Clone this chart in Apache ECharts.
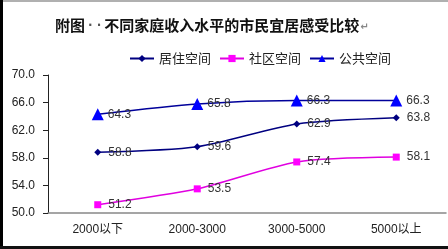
<!DOCTYPE html>
<html><head><meta charset="utf-8">
<script src="https://cdn.jsdelivr.net/npm/echarts@6/dist/echarts.min.js"></script>
<style>html,body{margin:0;padding:0;background:#fff}#c{width:448px;height:249px}</style>
</head><body><div id="c"></div>
<script>
const categories = ['2000以下', '2000-3000', '3000-5000', '5000以上'];
const seriesNames = ['居住空间', '社区空间', '公共空间'];
const residential = [58.8, 59.6, 62.9, 63.8];
const community = [51.2, 53.5, 57.4, 58.1];
const publicSpace = [64.3, 65.8, 66.3, 66.3];
const yTicks = [50, 54, 58, 62, 66, 70];

const chart = echarts.init(document.getElementById('c'), null, {renderer: 'canvas'});
const labelStyle = (dist) => ({
  show: true, position: 'right', distance: dist,
  color: '#333', fontSize: 12, fontFamily: 'Liberation Sans, Arial, sans-serif',
  formatter: p => p.value.toFixed(1)
});
chart.setOption({
  animation: false,
  backgroundColor: '#fff',
  title: {
    text: '{a|附图}{d|· ·}{a|不同家庭收入水平的市民宜居感受比较}{p|↵}',
    left: 50, top: 13,
    textStyle: {
      rich: {
        a: {fontSize: 15, fontWeight: 'bold', color: '#111', fontFamily: '"Noto Sans CJK SC", sans-serif'},
        d: {fontSize: 12, color: '#555', fontFamily: 'DejaVu Sans, sans-serif', padding: [0, 3, 0, 3]},
        p: {fontSize: 10, color: '#888', fontFamily: 'DejaVu Sans, sans-serif', padding: [4, 0, 0, 1]}
      }
    }
  },
  legend: {
    top: 47, left: 124, itemWidth: 24, itemHeight: 9, itemGap: 8,
    textStyle: {fontSize: 13, color: '#222', fontFamily: '"Noto Sans CJK SC", sans-serif'},
    data: seriesNames
  },
  grid: {left: 48, right: 2, top: 75, bottom: 36, containLabel: false},
  xAxis: {
    type: 'category', data: categories, boundaryGap: true,
    axisLine: {lineStyle: {color: '#888', width: 1.5}},
    axisTick: {show: false},
    axisLabel: {color: '#222', fontSize: 12, margin: 11,
      fontFamily: 'Liberation Sans, "Noto Sans CJK SC", sans-serif'}
  },
  yAxis: {
    type: 'value', min: 50, max: 70, interval: 4,
    axisLine: {show: true, lineStyle: {color: '#222', width: 1}},
    axisTick: {show: true, length: 5, lineStyle: {color: '#222'}},
    splitLine: {show: false},
    axisLabel: {color: '#222', fontSize: 12, margin: 13,
      fontFamily: 'Liberation Sans, Arial, sans-serif',
      formatter: v => yTicks.includes(v) ? v.toFixed(1) : ''}
  },
  series: [
    {name: seriesNames[0], type: 'line', data: residential, smooth: 0.25,
     symbol: 'diamond', symbolSize: 7,
     itemStyle: {color: '#000080'}, lineStyle: {color: '#000080', width: 1.5},
     label: labelStyle(7)},
    {name: seriesNames[1], type: 'line', data: community, smooth: 0.25,
     symbol: 'rect', symbolSize: 7,
     itemStyle: {color: '#ff00ff'}, lineStyle: {color: '#e000e0', width: 1.5},
     label: labelStyle(7)},
    {name: seriesNames[2], type: 'line', data: publicSpace, smooth: 0.25,
     symbol: 'triangle', symbolSize: 12,
     itemStyle: {color: '#0000ff'}, lineStyle: {color: '#00009a', width: 1.5},
     label: labelStyle(4)}
  ],
  graphic: [
    {type: 'rect', shape: {x: 0, y: 0, width: 448, height: 2}, style: {fill: '#b0b0b0'}, silent: true},
    {type: 'rect', shape: {x: 0, y: 0, width: 3, height: 249}, style: {fill: '#000'}, silent: true},
    {type: 'rect', shape: {x: 0, y: 246, width: 448, height: 3}, style: {fill: '#111'}, silent: true}
  ]
});
</script></body></html>
